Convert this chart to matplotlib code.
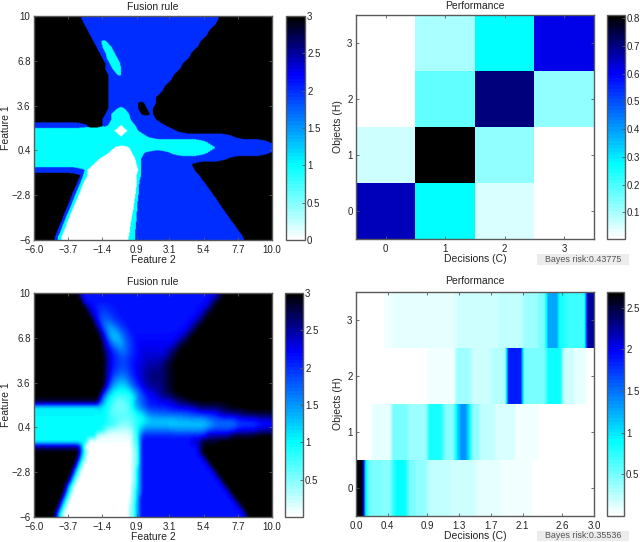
import numpy as np
import matplotlib
matplotlib.use("Agg")
import matplotlib.pyplot as plt
from matplotlib.colors import LinearSegmentedColormap
from matplotlib.patches import Rectangle

plt.rcParams['font.family'] = ['Liberation Sans', 'DejaVu Sans']

W, H = 640, 542

# ---- data ----
feature_ticks_x = [-6.0, -3.7, -1.4, 0.9, 3.1, 5.4, 7.7, 10.0]
feature_ticks_y = [-6, -2.8, 0.4, 3.6, 6.8, 10]
decision_ticks = [0.0, 0.4, 0.9, 1.3, 1.7, 2.1, 2.6, 3.0]
object_ticks = [0, 1, 2, 3]

# Fusion rule map (top row of the figure first): class + end column out of 80
# W=0, C=1, B=2, K=3
rule_rows = [
    "K16 B62 K80", "K17 B61 K80", "K18 B59 K80", "K19 B58 K80",
    "K20 B22.6 C24.3 B56 K80", "K21 B23 C26 B55 K80", "K22 B24 C27 B53 K80",
    "K23 B24.5 C28 B52 K80", "K24 B25.5 C29 B50 K80", "K24 B26.5 C29.3 B49 K80",
    "K25 B28 C29.3 B47 K80", "K25 B46 K80", "K25 B44 K80", "K25 B43 K80",
    "K25 B41 K80", "K25 B35 K37 B41 K80", "K25 B28 C30.5 B35 K38 B40 K80",
    "K24 B26 C32 B36 K39 B40 K80", "K23 B26 C32.5 B41 K80",
    "B18 K23 B25 C29.2 W29.3 C34 B44 K80", "C27 W31.4 C35 B48 K80", "C29.2 W29.3 C38 B67 K80",
    "C58 B79 K80", "C27 W32 C61 B80", "C25 W33 C37 B46 C58 B79 K80",
    "C22 W34 C36 B65 K80", "C20 W34.5 C36 B53 K80", "B17 C18 W35 C36 B54 K80",
    "K15.5 B16.5 C18 W34.5 C36 B55.6 K80", "K14.7 B15.8 C16.9 W34.5 C35.5 B57 K80",
    "K13.9 B15 C16.1 W34.4 C35.3 B58.4 K80", "K13.1 B14.2 C15.4 W34.2 C35.2 B59.7 K80",
    "K12.3 B13.4 C14.6 W33.9 C35 B61.1 K80", "K11.6 B12.7 C13.8 W33.6 C34.8 B62.3 K80",
    "K10.8 B11.9 C13 W33.4 C34.7 B63.6 K80", "K10 B11.1 C12.2 W33 C34.5 B65 K80",
    "K9.3 B10.3 C11.4 W32.7 C34.4 B66.3 K80", "K8.5 B9.6 C10.8 W32.4 C34.3 B67.7 K80",
    "K7.7 B8.9 C10 W32.2 C34 B69 K80", "K7 B8 C9.2 W31.8 C33.9 B70.4 K80",
]

# Soft fusion rule map (top row first): end column out of 80 : value
soft_rows = [
    "15:3 16:2.6 61:2.15 62:2.4 63:2.7 80:3",
    "16:3 17:2.6 59:2.15 60:2.4 61:2.7 80:3",
    "17:3 18:2.7 19:2.4 21:2.2 25:2 28:2.1 58:2.15 59:2.4 60:2.7 80:3",
    "18:3 19:2.7 20:2.4 22:2.15 25:1.9 28:2.05 56:2.15 58:2.5 80:3",
    "19:3 20:2.7 21:2.4 22:2.1 26:1.8 29:2.05 55:2.15 57:2.5 80:3",
    "20:3 21:2.7 22:2.3 23:2 27:1.6 30:1.95 53:2.15 55:2.5 80:3",
    "21:3 22:2.7 23:2.3 24:1.85 28:1.4 31:1.85 52:2.15 54:2.55 80:3",
    "22:3 23:2.7 24:2.3 25:1.8 29:1.25 32:1.8 50:2.15 52:2.55 80:3",
    "22.5:3 23.5:2.7 24.5:2.3 26:1.8 30:1.3 33:1.85 48:2.2 51:2.6 80:3",
    "23:3 24:2.7 25:2.3 27:1.95 31:1.5 34:1.95 47:2.25 49:2.65 80:3",
    "23.5:3 24.5:2.7 26:2.3 28:2 32:1.7 35:2.05 45:2.3 48:2.7 80:3",
    "24:3 25:2.6 27:2.25 29:2 32:1.85 36:2.15 45:2.35 47:2.75 80:3",
    "24:3 25:2.6 27:2.2 29:1.95 32:1.9 35:2.15 38:2.35 43:2.45 46:2.8 80:3",
    "24:3 25:2.6 27:2.15 29:1.95 32:1.85 35:2.15 38:2.4 44:2.55 47:2.85 80:3",
    "24:3 25:2.6 27:2.1 29:1.75 32:1.7 35:2.1 38:2.4 44:2.6 47:2.85 80:3",
    "24:3 25:2.5 27:1.9 32:1.5 35:2 38:2.4 44:2.6 47:2.85 80:3",
    "24:3 25:2.5 27:1.7 32:1.2 35:1.8 38:2.3 44:2.55 47:2.85 80:3",
    "23:3 24:2.5 26:1.5 33:1 36:1.7 40:2.25 44:2.55 47:2.85 80:3",
    "22:3 23:2.5 26:1.2 34:.75 37:1.6 42:2.15 46:2.6 50:2.9 80:3",
    "22:2.7 24:1.6 27:.9 31:.55 34:.95 38:1.8 48:2.2 52:2.7 80:3",
    "23:1.05 26:.9 32:.5 34:.9 37:1.6 45:2 55:2.25 65:2.7 80:3",
    "25:1.05 34:.7 37:1 40:1.6 52:1.8 62:2.05 70:2.6 80:2.9",
    "25:1 34:.65 38:.9 48:1.3 58:1.45 68:1.85 75:2.15 80:2.4",
    "28:1 33:.45 36:.85 44:1.2 60:1.15 68:1.55 75:1.8 80:1.95",
    "24:1 33:.25 35:.7 37:1.4 46:1.7 58:1.55 68:1.95 75:2.25 80:2.5",
    "21:1 33:.1 35:.6 36:1.5 48:2.1 58:2.1 66:2.5 74:2.9 80:3",
    "18:1 33:.05 35:.6 36:1.5 53:2.15 56:2.4 62:2.85 80:3",
    "15:2.6 16:2 17:1.2 33:.03 35:.5 36:1.4 55:2.15 57:2.6 80:3",
    "15:3 16:2.2 17:1.2 18:.5 33:.02 35:.4 36:1.4 55.5:2.15 56.5:2.6 80:3",
    "14.4:3 15.4:2.2 16.4:1.2 17.4:.5 33:.02 35:.4 36:1.4 57:2.15 58:2.6 80:3",
    "13.7:3 14.7:2.2 15.7:1.2 16.7:.5 33:.01 35:.4 36:1.4 58.3:2.15 59.3:2.6 80:3",
    "12.9:3 13.9:2.2 14.9:1.2 15.9:.5 33:.01 34.5:.4 36:1.4 59.7:2.15 60.7:2.6 80:3",
    "12.2:3 13.2:2.2 14.2:1.2 15.2:.5 33:.01 34.5:.4 36:1.4 61:2.15 62:2.6 80:3",
    "11.4:3 12.4:2.2 13.4:1.2 14.4:.5 33:.01 34.5:.4 36:1.4 62.4:2.15 63.4:2.6 80:3",
    "10.6:3 11.6:2.2 12.6:1.2 13.6:.5 32.7:.01 34.5:.5 36:1.4 63.8:2.15 64.8:2.6 80:3",
    "10:3 11:2.2 12:1.2 13:.5 32.7:.01 34.3:.5 36:1.4 65.2:2.15 66.2:2.6 80:3",
    "9.2:3 10.2:2.2 11.2:1.2 12.2:.5 32.5:.01 34.2:.5 35.5:1.4 66.6:2.15 67.6:2.6 80:3",
    "8.4:3 9.4:2.2 10.4:1.2 11.4:.5 32.3:.01 34:.5 35.5:1.4 68:2.15 69:2.6 80:3",
    "7.7:3 8.7:2.2 9.7:1.2 10.7:.5 32:.01 34:.5 35.5:1.4 69.4:2.15 70.4:2.6 80:3",
    "7:3 8:2.2 9:1.2 10:.5 32:.01 34:.5 35.5:1.4 70.8:2.15 71.8:2.6 80:3",
]

# Performance matrix, rows H=0..3, columns C=0..3
perf_matrix = [
    [0.66, 0.27, 0.05, 0.006],
    [0.06, 0.812, 0.13, 0.006],
    [0.012, 0.17, 0.70, 0.12],
    [0.008, 0.10, 0.27, 0.62],
]

# Soft performance: value, number of 0.05-wide decision cells
perf_h0 = [(2.69, 2), (.9, 1), (.5, 3), (.45, 3), (.75, 1), (.9, 2), (.85, 1), (.5, 2),
           (.38, 3), (.25, 6), (.18, 6), (.12, 6), (.07, 8), (.04, 8), (.005, 8)]
perf_h1 = [(.02, 4), (.1, 5), (.5, 4), (.35, 5), (.8, 4), (.45, 3), (1.0, 1), (1.35, 2),
           (1.0, 1), (.4, 2), (.25, 4), (.15, 5), (.08, 6), (.03, 8), (.01, 6)]
perf_h2 = [(.005, 2), (.02, 8), (.03, 8), (.06, 7), (.35, 4), (.2, 5), (.27, 4), (1.85, 4),
           (.5, 6), (.85, 4), (.2, 3), (.1, 3), (.03, 2)]
perf_h3 = [(.01, 7), (.06, 2), (.1, 7), (.12, 9), (.17, 5), (.2, 6), (.25, 6), (.35, 4),
           (.5, 2), (1.3, 3), (.8, 2), (.7, 5), (2.25, 2)]

bayes_top = "Bayes risk:0.43775"
bayes_bottom = "Bayes risk:0.35536"

# ---- helpers ----
GREY = "#5a5a5a"
TXT = "#222222"
cmap = LinearSegmentedColormap.from_list(
    "wcbk", [(0, "#ffffff"), (1/3, "#00ffff"), (0.74, "#0000ff"), (1, "#000000")], N=64)


def rect(box):
    x0, y0, x1, y1 = box
    return [x0 / W, 1 - y1 / H, (x1 - x0) / W, (y1 - y0) / H]


def fmt(v):
    s = f"{abs(v):.1f}"
    return ("\u2212" if v < 0 else "") + s


def rule_image(rows):
    """Region map drawn from the runs: each class is followed by its signed
    distance to the run edges, so the edges stay smooth from row to row."""
    classes = "WCBK"
    per = 4
    nc = 80 * per
    clip = 4.0
    x = (np.arange(nc) + .5) / per
    fine = 12
    yf = (np.arange(len(rows) * fine) + .5) / fine - .5
    ys = np.arange(len(rows))
    out = np.zeros((4, len(yf), nc))
    for k, name in enumerate(classes):
        D = np.zeros((len(rows), nc))
        for r, row in enumerate(rows):
            inside = np.zeros(nc, bool)
            edges = []
            start = 0.0
            for tok in row.split():
                end = float(tok[1:])
                if tok[0] == name:
                    inside[(x >= start) & (x < end)] = True
                    if start > 0:
                        edges.append(start)
                    if end < 80:
                        edges.append(end)
                start = end
            if edges:
                d = np.abs(x[None, :] - np.array(edges)[:, None]).min(axis=0)
            else:
                d = np.full(nc, clip)
            D[r] = np.clip(np.where(inside, d, -d), -clip, clip)
        out[k] = np.array([np.interp(yf, ys, D[:, c]) for c in range(nc)]).T
    return out.argmax(axis=0)


def tri_blur(img, half, axis):
    k = np.convolve(np.ones(half), np.ones(half))
    k = k / k.sum()
    pad = len(k)
    f = lambda a: np.convolve(np.pad(a, pad, mode='edge'), k, mode='same')[pad:-pad]
    return np.apply_along_axis(f, axis, img)


def soft_image(rows):
    per = 4
    fine = 4
    img = np.zeros((len(rows), 80 * per))
    for r, row in enumerate(rows):
        start = 0
        for tok in row.split():
            e, v = tok.split(":")
            end = int(round(float(e) * per))
            img[r, start:end] = float(v)
            start = end
    img = np.repeat(img, fine, axis=0)
    sharp = tri_blur(tri_blur(img, 5, 1), 4, 0)
    soft = tri_blur(tri_blur(img, 10, 1), 7, 0)
    # the upper middle of the map is softer than its outer edges
    rows_w = np.clip((27 * fine - np.arange(img.shape[0])) / (3.0 * fine), 0, 1)
    cols_w = np.clip((np.arange(img.shape[1]) - 20 * per) / (4.0 * per), 0, 1)
    weight = rows_w[:, None] * cols_w[None, :]
    return sharp * (1 - weight) + soft * weight


def perf_row(pairs):
    vals, counts = zip(*pairs)
    return np.repeat(vals, counts)


def style(ax):
    for s in ax.spines.values():
        s.set_color(GREY)
        s.set_linewidth(1.0)
    ax.tick_params(direction='in', length=2, width=0.6, color=GREY, labelsize=7.0,
                   labelcolor=TXT, pad=2.5, top=True, right=True)
    ax.tick_params(axis='x', pad=3.5)


def add_cbar(fig, im, box, ticks, labels):
    cax = fig.add_axes(rect(box))
    cb = fig.colorbar(im, cax=cax)
    cb.set_ticks(ticks)
    cb.set_ticklabels(labels)
    cb.outline.set_edgecolor(GREY)
    cb.outline.set_linewidth(1.0)
    cax.tick_params(direction='in', length=2, width=0.6, color=GREY, labelsize=7.0,
                    labelcolor=TXT, pad=1.5)
    return cb


def feature_axes(ax, y_title):
    ax.set_xlim(-6, 10)
    ax.set_ylim(-6, 10)
    ax.set_xticks(feature_ticks_x)
    ax.set_xticklabels([fmt(v) for v in feature_ticks_x])
    ax.set_yticks(feature_ticks_y)
    ax.set_yticklabels([("\u22126" if v == -6 else "10" if v == 10 else fmt(v)) for v in feature_ticks_y])
    ax.set_xlabel("Feature 2", fontsize=7.5, color=TXT)
    ax.set_ylabel("Feature 1", fontsize=7.5, color=TXT)
    ax.xaxis.set_label_coords(0.5, -0.069)
    ax.yaxis.set_label_coords(-0.097, 0.5)
    ax.set_title("Fusion rule", fontsize=7.5, color=TXT, pad=y_title)
    style(ax)


def perf_axes(ax, y_title):
    ax.set_yticks(object_ticks)
    ax.set_ylim(-.5, 3.5)
    ax.set_ylabel("Objects (H)", fontsize=7.5, color=TXT)
    ax.set_xlabel("Decisions (C)", fontsize=7.5, color=TXT)
    ax.xaxis.set_label_coords(0.5, -0.069)
    ax.yaxis.set_label_coords(-0.055, 0.5)
    ax.set_title("Performance", fontsize=7.5, color=TXT, pad=y_title)
    style(ax)


def bayes(fig, text, y0, y1):
    fig.add_artist(Rectangle((537 / W, 1 - y1 / H), 92 / W, (y1 - y0) / H,
                             transform=fig.transFigure, facecolor="#ececec", edgecolor="none"))
    fig.text(583 / W, 1 - (y0 + y1) / 2 / H, text, fontsize=6.4, color="#555555",
             ha='center', va='center')


# ---- figure ----
fig = plt.figure(figsize=(W / 100, H / 100), dpi=100, facecolor="white")

ax = fig.add_axes(rect((34, 16, 272, 240)))
im = ax.imshow(rule_image(rule_rows), cmap=cmap, vmin=0, vmax=3, extent=[-6, 10, -6, 10],
               aspect='auto', origin='upper', interpolation='bilinear')
feature_axes(ax, 4)
add_cbar(fig, im, (285.5, 16, 305, 240), [0, .5, 1, 1.5, 2, 2.5, 3],
         ["0", "0.5", "1", "1.5", "2", "2.5", "3"])

ax = fig.add_axes(rect((356, 15, 594, 239)))
im = ax.imshow(np.array(perf_matrix), cmap=cmap, vmin=.004, vmax=.812, extent=[-.5, 3.5, -.5, 3.5],
               aspect='auto', origin='lower', interpolation='nearest')
ax.set_xlim(-.5, 3.5)
ax.set_xticks(object_ticks)
perf_axes(ax, 4)
add_cbar(fig, im, (607, 15, 625, 239), [.1, .2, .3, .4, .5, .6, .7, .8],
         ["0.1", "0.2", "0.3", "0.4", "0.5", "0.6", "0.7", "0.8"])
bayes(fig, bayes_top, 254, 265)

ax = fig.add_axes(rect((34, 293, 272, 517)))
im = ax.imshow(soft_image(soft_rows), cmap=cmap, vmin=0, vmax=3, extent=[-6, 10, -6, 10],
               aspect='auto', origin='upper', interpolation='bilinear')
feature_axes(ax, 6)
add_cbar(fig, im, (285, 293, 303, 517), [.5, 1, 1.5, 2, 2.5, 3],
         ["0.5", "1", "1.5", "2", "2.5", "3"])

ax = fig.add_axes(rect((356, 292, 594, 516)))
im = None
for h, pairs in enumerate([perf_h0, perf_h1, perf_h2, perf_h3]):
    im = ax.imshow(perf_row(pairs)[None, :], cmap=cmap, vmin=0, vmax=2.69,
                   extent=[0, 3, h - .5, h + .5], aspect='auto', origin='lower',
                   interpolation='bilinear')
ax.set_xlim(0, 3)
ax.set_xticks(decision_ticks)
ax.set_xticklabels([f"{v:.1f}" for v in decision_ticks])
perf_axes(ax, 6)
add_cbar(fig, im, (607, 292, 624, 516), [.5, 1, 1.5, 2, 2.5], ["0.5", "1", "1.5", "2", "2.5"])
bayes(fig, bayes_bottom, 531, 541)

fig.savefig("out.png", dpi=100)
